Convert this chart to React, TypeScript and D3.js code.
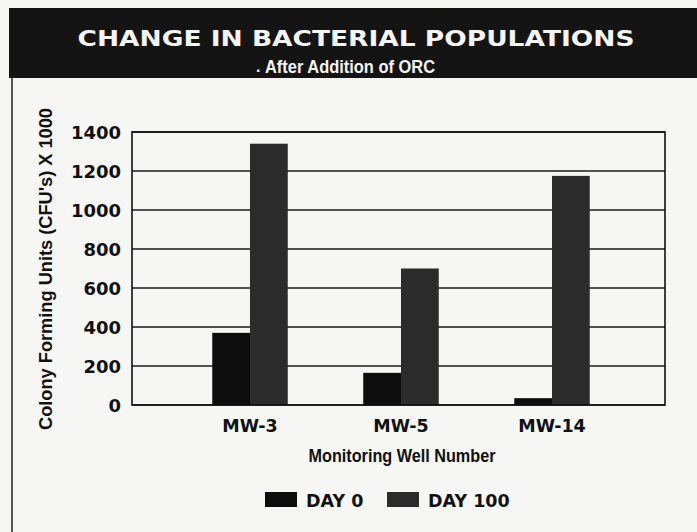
import React from "react";
import * as d3 from "d3";

// values (CFU's x 1000)
const wells = ["MW-3", "MW-5", "MW-14"];
const seriesNames = ["DAY 0", "DAY 100"];
const day0 = [370, 165, 35];
const day100 = [1340, 700, 1175];
const yTicks = [0, 200, 400, 600, 800, 1000, 1200, 1400];

const W = 697;
const H = 532;
const plot = { left: 132, right: 665, top: 132, bottom: 405 };

const wide = "'DejaVu Sans', Verdana, sans-serif";
const narrow = "'Liberation Sans Narrow', 'Liberation Sans', Arial, sans-serif";

const colors: Record<string, string> = { "DAY 0": "#0d0d0d", "DAY 100": "#2b2b2b" };

export default function App() {
  const x = d3
    .scaleBand<string>()
    .domain(wells)
    .range([174.5, 627.5])
    .paddingInner(0.5)
    .paddingOuter(0.25);

  const xSub = d3.scaleBand<string>().domain(seriesNames).range([0, x.bandwidth()]);

  const y = d3.scaleLinear().domain([0, 1400]).range([plot.bottom, plot.top]);

  const rows = wells.map((w, i) => ({ well: w, values: [day0[i], day100[i]] }));

  return (
    <svg
      width={W}
      height={H}
      style={{ position: "fixed", left: 0, top: 0, background: "#f6f6f4" }}
    >
      {/* dark header band */}
      <rect x={9} y={8} width={W - 9} height={70} fill="#141414" />
      <text
        x={356}
        y={46}
        textAnchor="middle"
        fill="#f4f4f4"
        fontFamily={wide}
        fontWeight="bold"
        fontSize={22}
        textLength={557}
        lengthAdjust="spacingAndGlyphs"
      >
        CHANGE IN BACTERIAL POPULATIONS
      </text>
      <text x={256} y={72} fill="#eee" fontFamily={narrow} fontWeight="bold" fontSize={16}>
        .
      </text>
      <text
        x={265}
        y={73}
        fill="#f4f4f4"
        fontFamily={narrow}
        fontWeight="bold"
        fontSize={19}
        textLength={170}
        lengthAdjust="spacingAndGlyphs"
      >
        After Addition of ORC
      </text>

      {/* panel left border */}
      <line x1={12} x2={12} y1={78} y2={H} stroke="#222" strokeWidth={1.5} />

      {/* grid */}
      {yTicks.map((t) => (
        <line
          key={t}
          x1={plot.left}
          x2={plot.right}
          y1={y(t)}
          y2={y(t)}
          stroke="#1a1a1a"
          strokeWidth={1.3}
        />
      ))}

      {/* bars */}
      {rows.map((r) => (
        <g key={r.well} transform={`translate(${x(r.well)},0)`}>
          {r.values.map((v, j) => (
            <rect
              key={seriesNames[j]}
              x={xSub(seriesNames[j])}
              y={y(v)}
              width={xSub.bandwidth()}
              height={y(0) - y(v)}
              fill={colors[seriesNames[j]]}
            />
          ))}
        </g>
      ))}

      {/* plot frame */}
      <rect
        x={plot.left}
        y={plot.top}
        width={plot.right - plot.left}
        height={plot.bottom - plot.top}
        fill="none"
        stroke="#111"
        strokeWidth={1.6}
      />

      {/* y tick labels */}
      {yTicks.map((t) => (
        <text
          key={t}
          x={121}
          y={y(t) + 6.5}
          textAnchor="end"
          fontFamily={wide}
          fontWeight="bold"
          fontSize={18}
          fill="#111"
        >
          {t}
        </text>
      ))}

      {/* x labels */}
      {wells.map((w) => (
        <text
          key={w}
          x={(x(w) ?? 0) + x.bandwidth() / 2}
          y={432}
          textAnchor="middle"
          fontFamily={wide}
          fontWeight="bold"
          fontSize={17.5}
          fill="#111"
        >
          {w}
        </text>
      ))}

      {/* axis titles */}
      <text
        x={402}
        y={462}
        textAnchor="middle"
        fontFamily={narrow}
        fontWeight="bold"
        fontSize={19}
        fill="#111"
        textLength={187}
        lengthAdjust="spacingAndGlyphs"
      >
        Monitoring Well Number
      </text>
      <text
        transform="translate(52,269) rotate(-90)"
        textAnchor="middle"
        fontFamily={narrow}
        fontWeight="bold"
        fontSize={18.5}
        fill="#111"
        textLength={322}
        lengthAdjust="spacingAndGlyphs"
      >
        Colony Forming Units (CFU's) X 1000
      </text>

      {/* legend */}
      {seriesNames.map((s, i) => {
        const lx = [265, 387][i];
        return (
          <g key={s}>
            <rect x={lx} y={492} width={32} height={15} fill={colors[s]} />
            <text
              x={lx + 41}
              y={507}
              fontFamily={wide}
              fontWeight="bold"
              fontSize={17.5}
              fill="#111"
            >
              {s}
            </text>
          </g>
        );
      })}
    </svg>
  );
}
